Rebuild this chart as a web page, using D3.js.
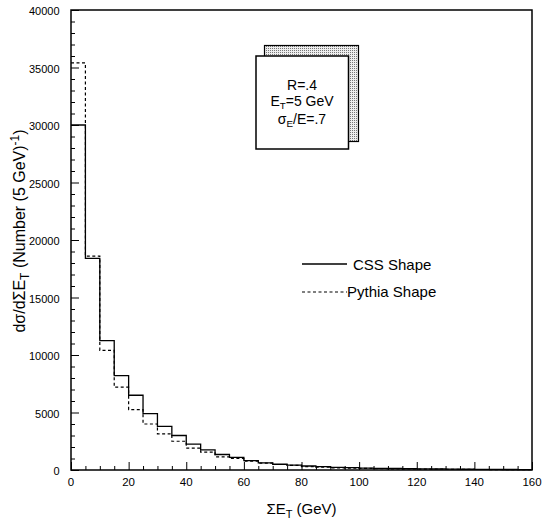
<!DOCTYPE html>
<html>
<head>
<meta charset="utf-8">
<script src="https://cdn.jsdelivr.net/npm/d3@7"></script>
<style>
  html, body { margin: 0; padding: 0; background: #fff; }
  svg { display: block; font-family: "Liberation Sans", Arial, Helvetica, sans-serif; }
</style>
</head>
<body>
<svg id="chart" width="542" height="525"></svg>
<script>
// ---- data ----
const binEdges = [0,5,10,15,20,25,30,35,40,45,50,55,60,65,70,75,80,85,90,95,100,105,110,115,120,125,130,135,140,145,150,155];
const cssShape = [30000,18400,11250,8200,6500,4900,3800,3000,2250,1750,1350,1100,820,620,500,430,350,290,230,200,170,150,130,110,95,85,75,65,55,50,45,40];
const pythiaShape = [35400,18600,10400,7200,5250,4000,3150,2500,1900,1550,1150,1000,760,600,480,400,290,240,190,170,140,120,100,90,80,70,60,50,45,40,35,30];
const binWidth = 5;
const xTicksMajor = [0,20,40,60,80,100,120,140,160];
const yTicksMajor = [0,5000,10000,15000,20000,25000,30000,35000,40000];
const legendLabels = ["CSS Shape", "Pythia Shape"];

// ---- layout ----
const svg = d3.select("#chart");
const L = 71, R = 532, T = 10, B = 470;
const x = d3.scaleLinear().domain([0,160]).range([L,R]);
const y = d3.scaleLinear().domain([0,40000]).range([B,T]);

// pattern for shadow box
const defs = svg.append("defs");
const pat = defs.append("pattern").attr("id","stipple").attr("width",2).attr("height",2)
  .attr("patternUnits","userSpaceOnUse");
pat.append("rect").attr("width",2).attr("height",2).attr("fill","#eee");
pat.append("rect").attr("width",1).attr("height",1).attr("fill","#777");

// frame
svg.append("rect").attr("x",L).attr("y",T).attr("width",R-L).attr("height",B-T)
  .attr("fill","none").attr("stroke","#000").attr("stroke-width",1.5);

// x axis ticks (inward)
const xAxis = d3.axisBottom(x).tickValues(d3.range(0,161,5)).tickSize(-4).tickFormat("");
const gx = svg.append("g").attr("transform",`translate(0,${B})`).call(xAxis);
gx.select(".domain").remove();
gx.selectAll(".tick line").attr("stroke","#000").attr("stroke-width",1)
  .attr("y2", d => (d % 20 === 0) ? -8 : -4);
svg.append("g").selectAll("text").data(xTicksMajor).join("text")
  .attr("x", d => x(d)).attr("y", 486).attr("text-anchor","middle")
  .attr("font-size", 11.5).text(d => d);

// y axis ticks (inward)
const yAxis = d3.axisLeft(y).tickValues(d3.range(0,40001,1000)).tickSize(-4).tickFormat("");
const gy = svg.append("g").attr("transform",`translate(${L},0)`).call(yAxis);
gy.select(".domain").remove();
gy.selectAll(".tick line").attr("stroke","#000").attr("stroke-width",1)
  .attr("x2", d => (d % 5000 === 0) ? 8 : 4);
svg.append("g").selectAll("text").data(yTicksMajor).join("text")
  .attr("x", 59.5).attr("y", d => y(d) + 5).attr("text-anchor","end")
  .attr("font-size", 11).text(d => d);

// histograms
function stepPoints(vals) {
  const pts = vals.map((v,i) => [binEdges[i], v]);
  pts.push([binEdges[binEdges.length-1] + binWidth, vals[vals.length-1]]);
  return pts;
}
const line = d3.line().x(d => x(d[0])).y(d => y(d[1])).curve(d3.curveStepAfter);
svg.append("path").attr("d", line(stepPoints(pythiaShape)))
  .attr("fill","none").attr("stroke","#000").attr("stroke-width",1.2)
  .attr("stroke-dasharray","3,2.5");
svg.append("path").attr("d", line(stepPoints(cssShape)))
  .attr("fill","none").attr("stroke","#000").attr("stroke-width",1.3);

// legend
const lg = svg.append("g");
lg.append("line").attr("x1",302).attr("x2",347).attr("y1",264).attr("y2",264)
  .attr("stroke","#000").attr("stroke-width",1.3);
lg.append("text").attr("x",353).attr("y",269.5).attr("font-size",15).text(legendLabels[0]);
lg.append("line").attr("x1",302).attr("x2",347).attr("y1",292).attr("y2",292)
  .attr("stroke","#000").attr("stroke-width",1.2).attr("stroke-dasharray","3,2.5");
lg.append("text").attr("x",347).attr("y",297).attr("font-size",15).text(legendLabels[1]);

// info box with shadow
svg.append("rect").attr("x",264.5).attr("y",45.5).attr("width",94).attr("height",96)
  .attr("fill","url(#stipple)").attr("stroke","#000").attr("stroke-width",1.2);
svg.append("rect").attr("x",256).attr("y",56).attr("width",92.5).attr("height",93)
  .attr("fill","#fff").attr("stroke","#000").attr("stroke-width",1.5);
const bx = 302, fs = 14;
const t1 = svg.append("text").attr("x",bx).attr("y",90).attr("text-anchor","middle").attr("font-size",fs);
t1.text("R=.4");
const t2 = svg.append("text").attr("x",bx).attr("y",106).attr("text-anchor","middle").attr("font-size",fs);
t2.append("tspan").text("E");
t2.append("tspan").attr("font-size",fs*0.7).attr("dy",2.5).text("T");
t2.append("tspan").attr("dy",-2.5).text("=5 GeV");
const t3 = svg.append("text").attr("x",bx).attr("y",124).attr("text-anchor","middle").attr("font-size",fs);
t3.append("tspan").text("σ");
t3.append("tspan").attr("font-size",fs*0.7).attr("dy",2.5).text("E");
t3.append("tspan").attr("dy",-2.5).text("/E=.7");

// axis titles
const xt = svg.append("text").attr("x",(L+R)/2).attr("y",514).attr("text-anchor","middle").attr("font-size",15);
xt.append("tspan").text("ΣE");
xt.append("tspan").attr("font-size",11).attr("dy",4).text("T");
xt.append("tspan").attr("dy",-4).text(" (GeV)");

const yt = svg.append("text").attr("transform","translate(25,231) rotate(-90)")
  .attr("text-anchor","middle").attr("font-size",16);
yt.append("tspan").text("dσ/dΣE");
yt.append("tspan").attr("font-size",12).attr("dy",4).text("T");
yt.append("tspan").attr("dy",-4).text(" (Number (5 GeV)");
yt.append("tspan").attr("font-size",12).attr("dy",-6).text("-1");
yt.append("tspan").attr("dy",6).text(")");
</script>
</body>
</html>
